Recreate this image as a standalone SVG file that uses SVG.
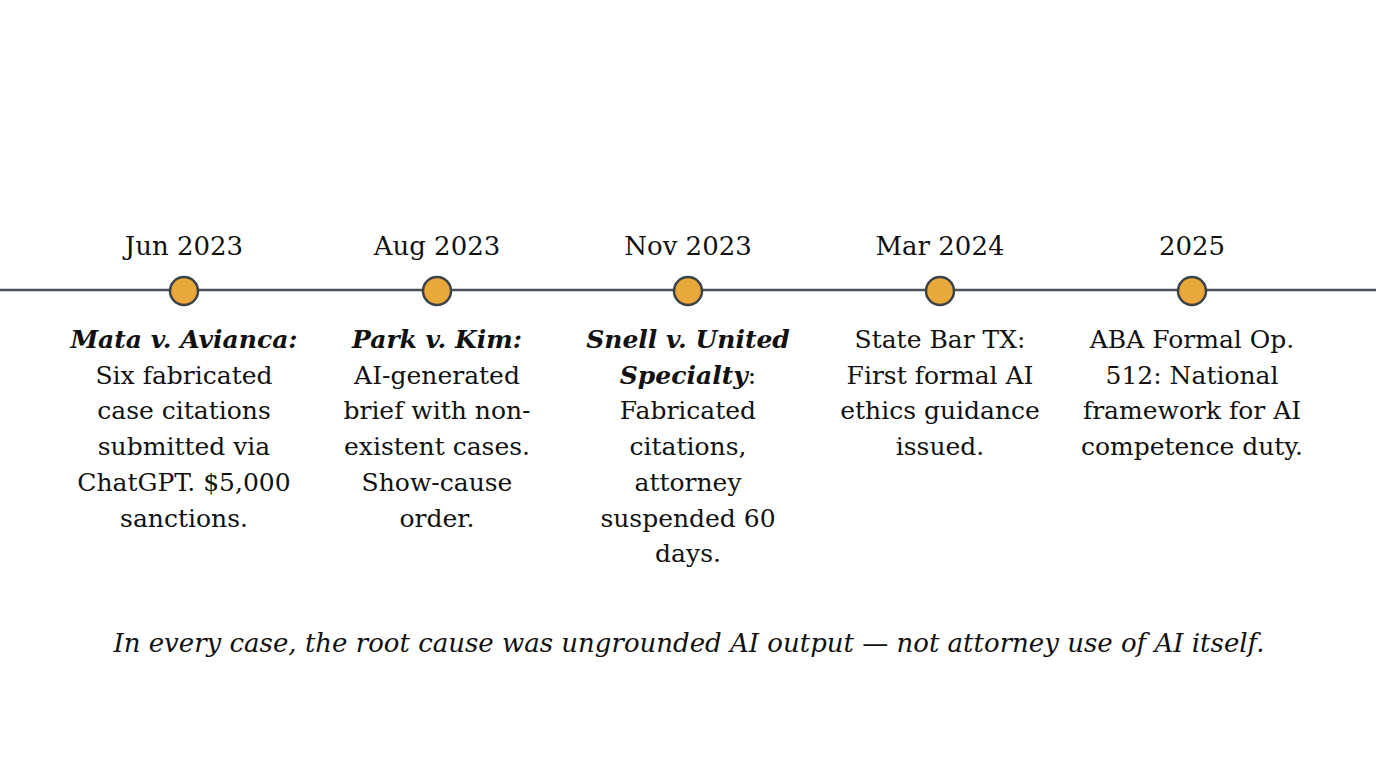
<svg xmlns="http://www.w3.org/2000/svg" width="1376" height="768" viewBox="0 0 1376 768">
<style>
text{font-family:"DejaVu Serif","Liberation Serif",serif;fill:#111;text-anchor:middle}
.d{font-size:26px}
.t{font-size:25px}
.b{font-weight:bold;font-style:italic}
.f{font-size:26px;font-style:italic}
.dot{fill:#e8a83a;stroke:#3d434b;stroke-width:2.5}
</style>
<rect width="1376" height="768" fill="#fff"/>
<g id="connectors"><line x1="0" y1="290" x2="1376" y2="290" stroke="#4a5058" stroke-width="2.5"/></g>
<g id="n1"><text class="d" x="184" y="255">Jun 2023</text><circle class="dot" cx="184" cy="291" r="14"/>
<text class="t" x="184" y="348"><tspan class="b">Mata v. Avianca:</tspan><tspan x="184" dy="35.7">Six fabricated</tspan><tspan x="184" dy="35.7">case citations</tspan><tspan x="184" dy="35.7">submitted via</tspan><tspan x="184" dy="35.7">ChatGPT. $5,000</tspan><tspan x="184" dy="35.7">sanctions.</tspan></text></g>
<g id="n2"><text class="d" x="437" y="255">Aug 2023</text><circle class="dot" cx="437" cy="291" r="14"/>
<text class="t" x="437" y="348"><tspan class="b">Park v. Kim:</tspan><tspan x="437" dy="35.7">AI-generated</tspan><tspan x="437" dy="35.7">brief with non-</tspan><tspan x="437" dy="35.7">existent cases.</tspan><tspan x="437" dy="35.7">Show-cause</tspan><tspan x="437" dy="35.7">order.</tspan></text></g>
<g id="n3"><text class="d" x="688" y="255">Nov 2023</text><circle class="dot" cx="688" cy="291" r="14"/>
<text class="t" x="688" y="348"><tspan class="b">Snell v. United</tspan><tspan x="688" dy="35.7"><tspan class="b">Specialty</tspan>:</tspan><tspan x="688" dy="35.7">Fabricated</tspan><tspan x="688" dy="35.7">citations,</tspan><tspan x="688" dy="35.7">attorney</tspan><tspan x="688" dy="35.7">suspended 60</tspan><tspan x="688" dy="35.7">days.</tspan></text></g>
<g id="n4"><text class="d" x="940" y="255">Mar 2024</text><circle class="dot" cx="940" cy="291" r="14"/>
<text class="t" x="940" y="348">State Bar TX:<tspan x="940" dy="35.7">First formal AI</tspan><tspan x="940" dy="35.7">ethics guidance</tspan><tspan x="940" dy="35.7">issued.</tspan></text></g>
<g id="n5"><text class="d" x="1192" y="255">2025</text><circle class="dot" cx="1192" cy="291" r="14"/>
<text class="t" x="1192" y="348">ABA Formal Op.<tspan x="1192" dy="35.7">512: National</tspan><tspan x="1192" dy="35.7">framework for AI</tspan><tspan x="1192" dy="35.7">competence duty.</tspan></text></g>
<text class="f" x="689" y="652">In every case, the root cause was ungrounded AI output — not attorney use of AI itself.</text>
</svg>
